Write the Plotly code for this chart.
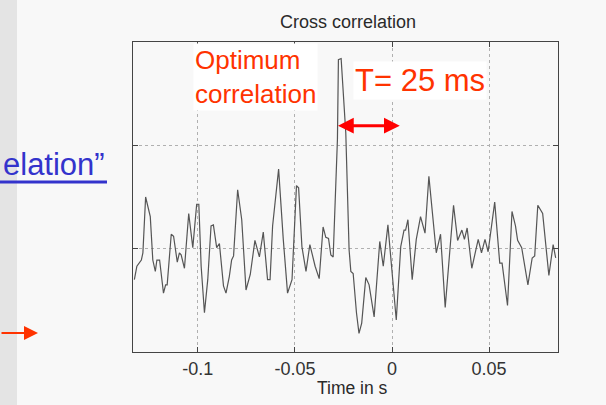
import plotly.graph_objects as go

# ---- data (time in s, correlation in grid units) ----
time_s = [-0.1327, -0.1314, -0.1291, -0.1283, -0.1269, -0.1245, -0.1232, -0.1219, -0.1211, -0.1197,
          -0.1177, -0.1166, -0.1158, -0.1137, -0.1125, -0.1106, -0.1095, -0.1086, -0.1069, -0.1047,
          -0.1026, -0.1006, -0.0995, -0.0983, -0.0966, -0.0949, -0.0932, -0.0920, -0.0903, -0.0889,
          -0.0868, -0.0855, -0.0838, -0.0826, -0.0816, -0.0795, -0.0774, -0.0752, -0.0730, -0.0706,
          -0.0683, -0.0663, -0.0641, -0.0628, -0.0615, -0.0584, -0.0560, -0.0538, -0.0515, -0.0492,
          -0.0481, -0.0464, -0.0443, -0.0423, -0.0396, -0.0375, -0.0355, -0.0341, -0.0327, -0.0315,
          -0.0303, -0.0289, -0.0281, -0.0276, -0.0262, -0.0238, -0.0221, -0.0212, -0.0200, -0.0183,
          -0.0170, -0.0156, -0.0135, -0.0118, -0.0092, -0.0063, -0.0045, -0.0021, 0.0002, 0.0022,
          0.0045, 0.0062, 0.0070, 0.0082, 0.0104, 0.0125, 0.0147, 0.0170, 0.0190, 0.0228,
          0.0250, 0.0274, 0.0317, 0.0338, 0.0360, 0.0373, 0.0387, 0.0411, 0.0444, 0.0461,
          0.0479, 0.0495, 0.0529, 0.0555, 0.0567, 0.0595, 0.0618, 0.0636, 0.0647, 0.0668,
          0.0700, 0.0722, 0.0735, 0.0751, 0.0776, 0.0808, 0.0830, 0.0843]
corr = [-0.30, -0.17, -0.11, -0.04, 0.50, 0.31, -0.11, -0.22, -0.11, -0.11,
        -0.43, -0.35, -0.35, 0.14, 0.12, -0.13, -0.04, -0.06, -0.19, 0.34,
        0.01, 0.43, 0.43, -0.17, -0.62, -0.30, 0.22, 0.23, 0.01, 0.05,
        -0.36, -0.43, -0.27, -0.11, -0.07, 0.57, 0.28, -0.40, -0.25, 0.08,
        -0.08, 0.16, -0.30, -0.30, 0.22, 0.77, 0.09, -0.43, -0.30, 0.61,
        0.59, 0.02, -0.22, 0.04, -0.17, -0.29, 0.21, 0.11, 0.10, -0.06,
        -0.08, 0.74, 1.06, 1.83, 1.84, 1.12, -0.01, -0.22, -0.24, -0.62,
        -0.82, -0.72, -0.28, -0.35, -0.66, 0.07, -0.17, 0.23, -0.30, -0.69,
        0.02, 0.18, 0.18, 0.28, -0.30, 0.09, 0.31, 0.15, 0.70, -0.04,
        0.14, -0.57, 0.42, 0.08, 0.18, 0.09, 0.20, -0.19, 0.09, -0.04,
        0.09, -0.03, 0.45, -0.14, -0.14, -0.55, 0.36, 0.22, 0.08, 0.01,
        -0.35, -0.09, -0.07, 0.42, 0.34, -0.26, 0.04, -0.09]

x_ticks = [-0.1, -0.05, 0, 0.05]
x_tick_labels = ["-0.1", "-0.05", "0", "0.05"]
y_grid = [0, 1]

title_text = "Cross correlation"
x_title = "Time in s"
note_optimum = "Optimum<br>correlation"
note_delay = "T= 25 ms"
slide_text = "elation\u201d"
delay_start, delay_end, delay_level = -0.0286, 0.0040, 1.19

# ---- layout helpers (pixel -> paper) ----
W, H = 606, 405
L, R, T, B = 133, 558, 42, 352
def px(x):
    return (x - L) / (R - L)
def py(y):
    return (B - y) / (B - T)

FONT = "Liberation Sans, Arial, sans-serif"
RED = "#ff3300"

fig = go.Figure()
fig.add_trace(go.Scatter(x=time_s, y=corr, mode="lines",
                         line=dict(color="#555555", width=1.2),
                         hoverinfo="skip", showlegend=False))

axis_common = dict(showline=True, linecolor="#444444", linewidth=1, mirror="ticks",
                   ticks="inside", ticklen=5, tickcolor="#444444",
                   showgrid=True, gridcolor="#b0b0b0", griddash="dot", gridwidth=1,
                   zeroline=False)

fig.update_xaxes(range=[-0.1334, 0.0855], tickvals=x_ticks, ticktext=x_tick_labels,
                 tickfont=dict(family=FONT, size=18, color="#333333"), **axis_common)
fig.update_yaxes(range=[-1.0, 2.0], tickvals=y_grid, showticklabels=False, **axis_common)

shapes = [
    # gray slide strip on the left
    dict(type="rect", xref="paper", yref="paper", x0=px(0), x1=px(17), y0=py(H), y1=py(0),
         fillcolor="#e4e4e4", line=dict(width=0), layer="below"),
    # underline of slide text
    dict(type="line", xref="paper", yref="paper", x0=px(0), x1=px(107), y0=py(182), y1=py(182),
         line=dict(color="#3333cc", width=3)),
]

annotations = [
    dict(text=title_text, xref="paper", yref="paper", x=px(348), y=py(22),
         xanchor="center", yanchor="middle", showarrow=False,
         font=dict(family=FONT, size=18, color="#2a2a2a")),
    dict(text=x_title, xref="paper", yref="paper", x=px(352), y=py(388),
         xanchor="center", yanchor="middle", showarrow=False,
         font=dict(family=FONT, size=17.5, color="#2a2a2a")),
    dict(text=note_optimum, xref="paper", yref="paper", x=px(255), y=py(76.5),
         xanchor="center", yanchor="middle", showarrow=False, align="left",
         bgcolor="white", borderpad=1,
         font=dict(family=FONT, size=26, color=RED)),
    dict(text=note_delay, xref="paper", yref="paper", x=px(420), y=py(80.5),
         xanchor="center", yanchor="middle", showarrow=False,
         bgcolor="white", borderpad=1,
         font=dict(family=FONT, size=31, color=RED)),
    # double-headed delay arrow (data coordinates)
    dict(text="", x=delay_end, y=delay_level, ax=delay_start, ay=delay_level,
         xref="x", yref="y", axref="x", ayref="y", showarrow=True,
         arrowhead=2, startarrowhead=2, arrowside="end+start",
         arrowsize=1.05, startarrowsize=1.05, arrowwidth=3, arrowcolor="#ff0000"),
    # slide text fragment
    dict(text=slide_text, xref="paper", yref="paper", x=px(2), y=py(164),
         xanchor="left", yanchor="middle", showarrow=False, borderpad=0,
         font=dict(family=FONT, size=31, color="#3333cc")),
    # slide arrow bottom-left
    dict(text="", xref="paper", yref="paper", x=px(38), y=py(333),
         ax=-42, ay=0, showarrow=True, arrowhead=2, arrowsize=1.4, arrowwidth=2,
         arrowcolor=RED),
]

fig.update_layout(width=W, height=H,
                  margin=dict(l=L, r=W - R, t=T, b=H - B),
                  paper_bgcolor="#f8f8f8", plot_bgcolor="#f8f8f8",
                  shapes=shapes, annotations=annotations, showlegend=False)

fig.write_html("out.html")
